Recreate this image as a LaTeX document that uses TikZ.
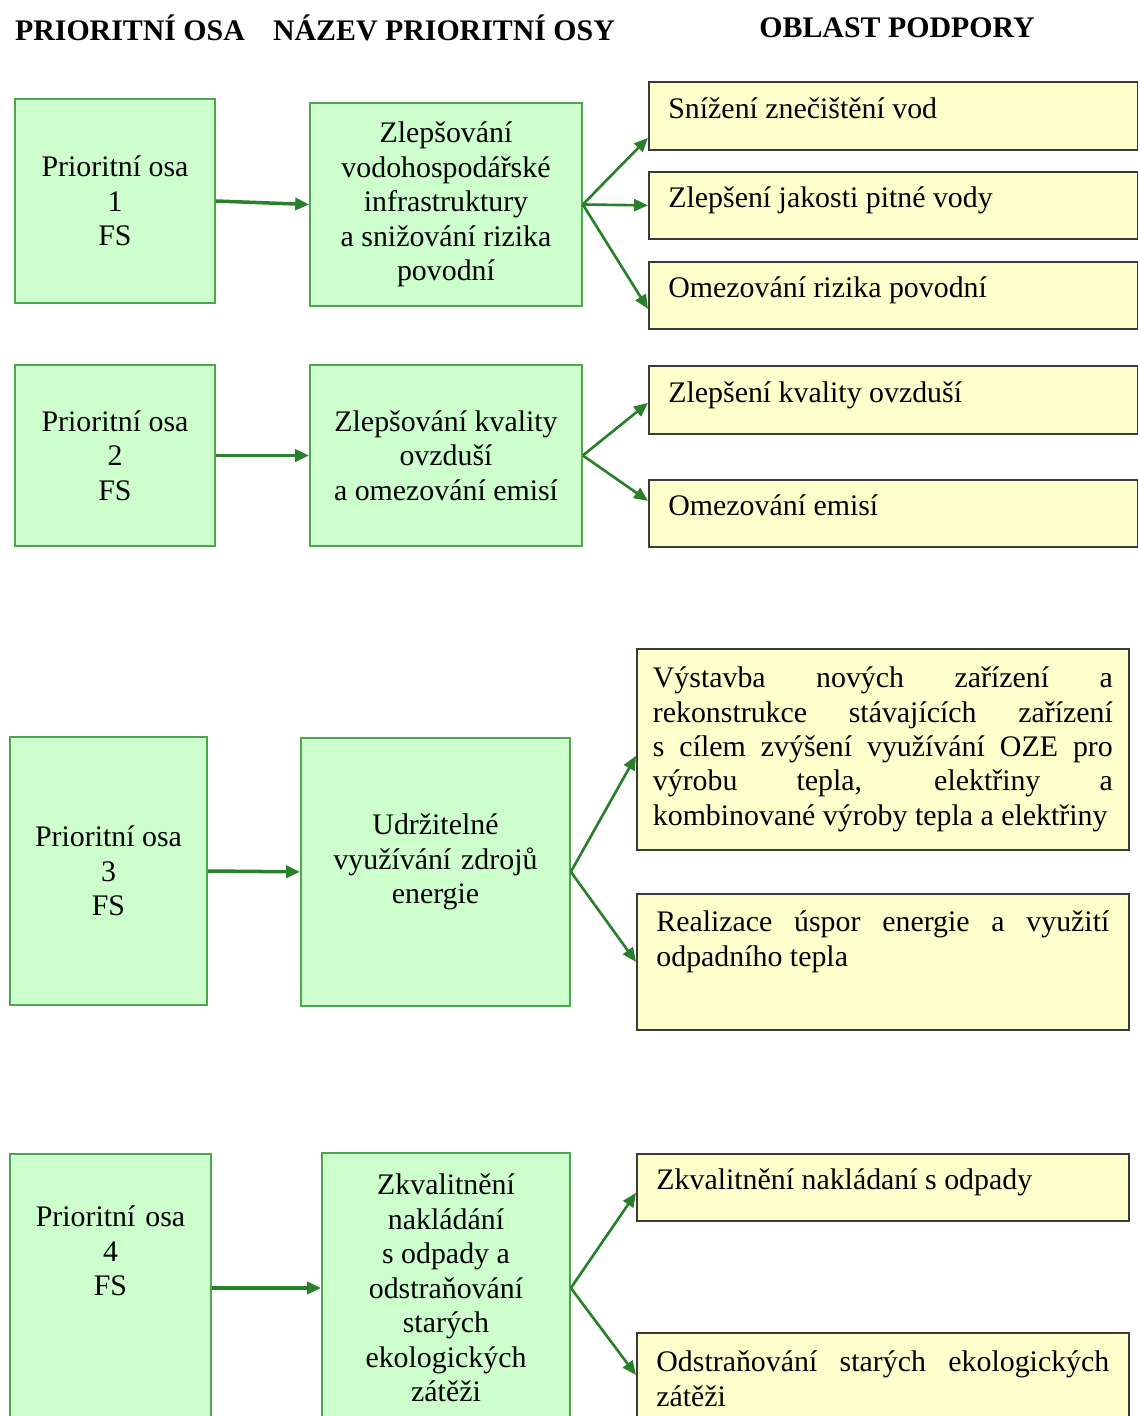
\documentclass[tikz,border=0pt]{standalone}
\usepackage{fontspec}
\setmainfont{Liberation Serif}
\usetikzlibrary{arrows.meta}
\definecolor{osafill}{HTML}{CCFFCC}
\definecolor{osastroke}{HTML}{4DA64D}
\definecolor{oblastfill}{HTML}{FFFFCC}
\definecolor{oblaststroke}{HTML}{3A3A3A}
\definecolor{sipkagreen}{HTML}{2A7F2A}

\begin{document}
\begin{tikzpicture}[x=0.02cm, y=-0.02cm,
  font=\fontsize{17pt}{19.6pt}\selectfont,
  hlavicka/.style={font=\fontsize{17pt}{20pt}\selectfont\bfseries},
  zelena/.style={draw=osastroke, fill=osafill, line width=1pt, align=center},
  zluta/.style={draw=oblaststroke, fill=oblastfill, line width=1pt, anchor=north west,
    align=justify, inner xsep=0.39cm},
  radek/.style={zluta, text depth=0.33cm},
  sipka/.style={-{Triangle[length=0.28cm, width=0.24cm]}, line width=1.5pt, sipkagreen},
  hlavni/.style={sipka, line width=2pt}]
  \path[use as bounding box, fill=white] (0,0) rectangle (1138,1416);
  % headings
  \node[hlavicka] (h1) at (130,28) {PRIORITNÍ OSA};
  \node[hlavicka] (h2) at (444,28) {NÁZEV PRIORITNÍ OSY};
  \node[hlavicka] (h3) at (897,28) {OBLAST PODPORY};
  % axis 1
  \node[zelena, minimum width=4cm, minimum height=4.08cm] (A1) at (115,201) {Prioritní osa\\1\\FS};
  \node[zelena, minimum width=5.44cm, minimum height=4.06cm] (B1) at (446,204.5)
    {Zlepšování\\vodohospodářské\\infrastruktury\\a snižování rizika\\povodní};
  \node[radek, text width=9cm, minimum height=1.36cm] (C1a) at (648,81) {Snížení znečištění vod};
  \node[radek, text width=9cm, minimum height=1.34cm] (C1b) at (648,171) {Zlepšení jakosti pitné vody};
  \node[radek, text width=9cm, minimum height=1.34cm] (C1c) at (648,261) {Omezování rizika povodní};
  \draw[hlavni] (A1.east) -- (B1.west);
  \draw[sipka] (B1.east) -- ([yshift=-0.44cm]C1a.west);
  \draw[sipka] (B1.east) -- (C1b.west);
  \draw[sipka] (B1.east) -- ([yshift=-0.27cm]C1c.west);
  % axis 2
  \node[zelena, minimum width=4cm, minimum height=3.62cm] (A2) at (115,455.5) {Prioritní osa\\2\\FS};
  \node[zelena, minimum width=5.44cm, minimum height=3.62cm] (B2) at (446,455.5)
    {Zlepšování kvality\\ovzduší\\a omezování emisí};
  \node[radek, text width=9cm, minimum height=1.36cm] (C2a) at (648,365) {Zlepšení kvality ovzduší};
  \node[radek, text width=9cm, minimum height=1.34cm] (C2b) at (648,479) {Omezování emisí};
  \draw[hlavni] (A2.east) -- (B2.west);
  \draw[sipka] (B2.east) -- ([yshift=-0.06cm]C2a.west);
  \draw[sipka] (B2.east) -- ([yshift=0.25cm]C2b.west);
  % axis 3
  \node[zelena, minimum width=3.94cm, minimum height=5.36cm] (A3) at (108.5,871) {Prioritní osa\\3\\FS};
  \node[zelena, anchor=north, text width=5cm, inner xsep=0.19cm, inner ysep=0.1cm,
    text height=1.84cm, text depth=3.32cm] (B3) at (435.5,737)
    {Udržitelné\\využívání zdrojů\\energie};
  \node[zluta, text width=9.2cm, inner xsep=0.32cm, minimum height=4.02cm] (C3a) at (636,648)
    {Výstavba nových zařízení a\linebreak rekonstrukce stávajících zařízení\linebreak
     s~cílem zvýšení využívání OZE pro\linebreak výrobu tepla, elektřiny a\linebreak
     kombinované výroby tepla a elektřiny};
  \node[zluta, text width=9.06cm, inner ysep=0.1cm, text height=0.66cm, text depth=1.86cm] (C3b) at (636,893)
    {Realizace úspor energie a využití\linebreak odpadního tepla};
  \draw[hlavni] (A3.east) -- (B3.west);
  \draw[sipka] (B3.east) -- ([yshift=-0.13cm]C3a.west);
  \draw[sipka] (B3.east) -- (C3b.west);
  % axis 4
  \node[zelena, anchor=north, text width=3.6cm, inner xsep=0.21cm, inner ysep=0.1cm,
    text height=1.36cm, text depth=3.98cm] (A4) at (110.5,1153) {Prioritní osa\\4\\FS};
  \node[zelena, minimum width=4.96cm, minimum height=5.4cm] (B4) at (446,1288)
    {Zkvalitnění\\nakládání\\s odpady a\\odstraňování\\starých\\ekologických\\zátěži};
  \node[radek, text width=9.06cm, minimum height=1.34cm] (C4a) at (636,1153) {Zkvalitnění nakládaní s odpady};
  \node[zluta, text width=9.06cm, inner ysep=0.1cm, text height=0.68cm, text depth=2cm] (C4b) at (636,1332)
    {Odstraňování starých ekologických\linebreak zátěži};
  \draw[hlavni] (A4.east |- B4.west) -- (B4.west);
  \draw[sipka] (B4.east) -- ([yshift=-0.11cm]C4a.west);
  \draw[sipka] (B4.east) -- ([yshift=-0.86cm]C4b.north west);
\end{tikzpicture}
\end{document}
